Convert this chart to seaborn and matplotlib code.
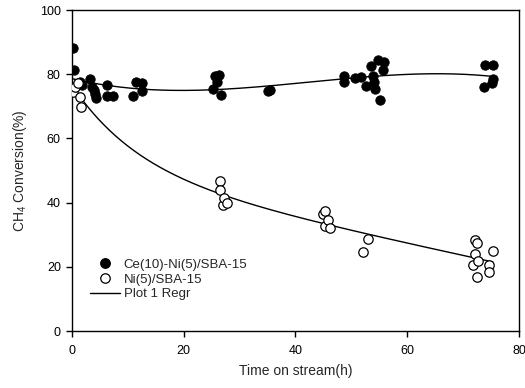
import numpy as np
import pandas as pd
import matplotlib
matplotlib.use("Agg")
import matplotlib.pyplot as plt
import seaborn as sns
from matplotlib.lines import Line2D

# Time on stream (h) and CH4 conversion (%) for each catalyst
ce_time = [0.2, 0.4, 1.4, 1.8, 3.3, 3.5, 3.9, 4.1, 4.3, 6.2, 6.3, 7.4,
           10.9, 11.5, 12.5, 12.6, 25.3, 25.6, 25.9, 26.4, 26.7, 35.1, 35.5,
           48.7, 48.7, 50.6, 51.8, 52.7, 53.6, 53.9, 54.0, 54.2, 54.8, 55.1,
           55.7, 55.8, 73.7, 73.9, 75.1, 75.3, 75.4]
ce_conv = [88.1, 81.3, 77.7, 76.6, 78.6, 75.9, 75.1, 73.8, 72.5, 76.5, 73.2, 73.2,
           73.3, 77.6, 77.2, 74.9, 75.3, 79.4, 77.7, 79.6, 73.4, 74.9, 75.0,
           79.4, 77.6, 78.7, 79.0, 76.3, 82.6, 79.4, 77.6, 75.3, 84.4, 72.0,
           81.3, 83.9, 76.1, 82.9, 77.2, 82.9, 78.4]

ni_time = [0.2, 0.5, 1.1, 1.4, 1.7, 26.5, 26.5, 27.0, 27.2, 27.7,
           44.9, 45.3, 45.3, 45.8, 46.1, 52.0, 52.9,
           71.8, 72.1, 72.2, 72.4, 72.5, 72.7, 74.6, 74.6, 75.3]
ni_conv = [74.5, 75.9, 77.4, 73.0, 69.7, 46.7, 43.9, 39.3, 41.4, 39.9,
           36.4, 37.5, 32.8, 34.6, 32.0, 24.7, 28.8,
           20.6, 24.0, 28.3, 27.3, 16.7, 21.8, 20.6, 18.3, 24.9]

series_labels = ["Ce(10)-Ni(5)/SBA-15", "Ni(5)/SBA-15", "Plot 1 Regr"]
x_ticks = [0, 20, 40, 60, 80]
y_ticks = [0, 20, 40, 60, 80, 100]

ce = pd.DataFrame({"t": ce_time, "c": ce_conv})
ni = pd.DataFrame({"t": ni_time, "c": ni_conv})

# Regression curves: cubic polynomial for Ce-promoted, exponential decay + linear for Ni
ce_coef = np.polyfit(ce["t"], ce["c"], 3)
ce_fit_t = np.linspace(ce["t"].min(), ce["t"].max(), 200)
ce_fit = pd.DataFrame({"t": ce_fit_t, "c": np.polyval(ce_coef, ce_fit_t)})

best = None
tt = ni["t"].to_numpy()
yy = ni["c"].to_numpy()
for b in np.linspace(0.005, 0.5, 1000):
    A = np.column_stack([np.exp(-b * tt), tt, np.ones_like(tt)])
    coef, *_ = np.linalg.lstsq(A, yy, rcond=None)
    err = np.sum((A @ coef - yy) ** 2)
    if best is None or err < best[0]:
        best = (err, b, coef)
_, nb, ncoef = best
ni_fit_t = np.linspace(ni["t"].min(), ni["t"].max(), 200)
ni_fit = pd.DataFrame({"t": ni_fit_t,
                       "c": ncoef[0] * np.exp(-nb * ni_fit_t) + ncoef[1] * ni_fit_t + ncoef[2]})

sns.set_style("ticks")
plt.rcParams["font.family"] = ["Liberation Sans", "DejaVu Sans"]
plt.rcParams["mathtext.fontset"] = "custom"
plt.rcParams["mathtext.rm"] = "Liberation Sans"
plt.rcParams["mathtext.it"] = "Liberation Sans"
plt.rcParams["mathtext.default"] = "rm"

fig = plt.figure(figsize=(5.25, 3.88), dpi=100)
ax = fig.add_axes([0.1371, 0.1469, 0.8515, 0.8273])

sns.lineplot(data=ce_fit, x="t", y="c", ax=ax, color="black", lw=1.0, zorder=2)
sns.lineplot(data=ni_fit, x="t", y="c", ax=ax, color="black", lw=1.0, zorder=2)
sns.scatterplot(data=ce, x="t", y="c", ax=ax, color="black", edgecolor="black",
                s=46, linewidth=0.6, zorder=3)
sns.scatterplot(data=ni, x="t", y="c", ax=ax, facecolor="white", edgecolor="black",
                s=46, linewidth=0.9, zorder=4)

ax.set_xlim(0, 80)
ax.set_ylim(0, 100)
ax.set_xticks(x_ticks)
ax.set_yticks(y_ticks)
ax.tick_params(direction="out", length=4, width=1, labelsize=9, colors="black")
ax.tick_params(axis="x", pad=6)
ax.tick_params(axis="y", pad=4)
for s in ax.spines.values():
    s.set_visible(True)
    s.set_color("black")
    s.set_linewidth(1.0)
ax.set_xlabel("Time on stream(h)", fontsize=10, labelpad=5)
ax.set_ylabel("CH$_4$ Conversion(%)", fontsize=10, labelpad=8)

handles = [
    Line2D([], [], ls="none", marker="o", ms=6.8, mfc="black", mec="black"),
    Line2D([], [], ls="none", marker="o", ms=6.8, mfc="white", mec="black", mew=0.9),
    Line2D([], [], color="black", lw=1.0),
]
ax.legend(handles, series_labels, loc="upper left", bbox_to_anchor=(0.04, 0.226),
          frameon=False, fontsize=9.5, handlelength=2.3, handletextpad=0.25,
          labelspacing=0.2, borderpad=0, borderaxespad=0)

fig.savefig("out.png", dpi=100)
